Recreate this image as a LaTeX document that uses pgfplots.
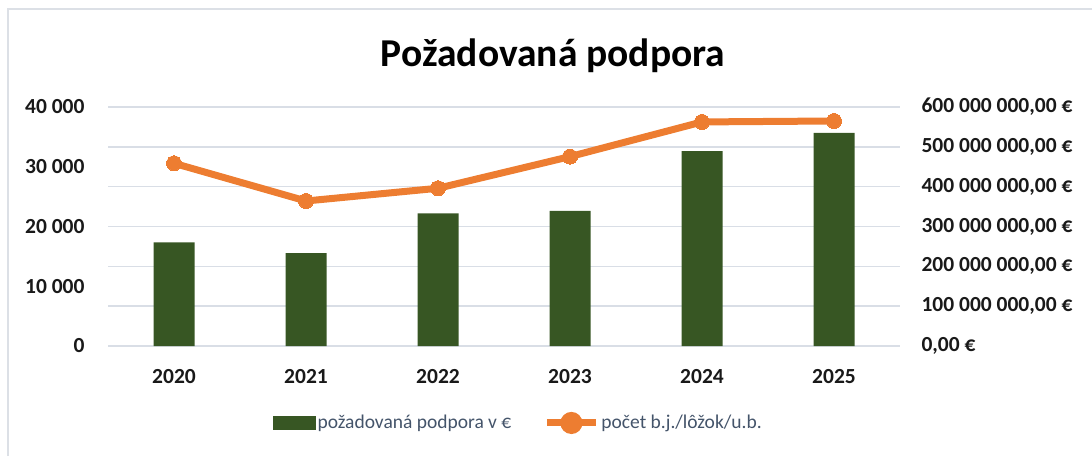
\documentclass[border=0pt]{standalone}
\usepackage{fontspec}
\setmainfont{Carlito}
\usepackage{pgfplots}
\pgfplotsset{compat=1.18}
\definecolor{bargreen}{HTML}{375623}
\definecolor{lineorange}{HTML}{ED7D31}
\definecolor{gridc}{HTML}{D9DEE6}
\definecolor{legtext}{HTML}{44546A}
\definecolor{framec}{HTML}{DCE0E6}
\begin{document}
\begin{tikzpicture}[x=1pt,y=1pt]
\path[use as bounding box] (0,0) rectangle (1092,456);
\draw[framec, line width=2pt] (8,0) -- (8,447) -- (1092,447);
\node[font=\fontsize{39.5}{44}\selectfont\bfseries, anchor=base] at (553,389) {Požadovaná podpora};
% bars: right axis (EUR)
\begin{axis}[
  at={(108pt,110pt)}, anchor=south west,
  scale only axis, width=792pt, height=239pt,
  xmin=-0.5, xmax=5.5, ymin=0, ymax=600000000,
  axis line style={draw=none},
  major tick length=0pt,
  axis y line*=right,
  axis x line*=bottom,
  scaled y ticks=false,
  xtick={0,1,2,3,4,5},
  xticklabels={2020,2021,2022,2023,2024,2025},
  ytick={0,100000000,200000000,300000000,400000000,500000000,600000000},
  yticklabels={{0,00~€},{100~000~000,00~€},{200~000~000,00~€},{300~000~000,00~€},{400~000~000,00~€},{500~000~000,00~€},{600~000~000,00~€}},
  yticklabel style={anchor=west, xshift=18pt, font=\fontsize{21.5}{24}\selectfont\bfseries, text=black!90},
  xticklabel style={font=\fontsize{21.5}{24}\selectfont\bfseries, text=black!90, yshift=-20pt},
  ymajorgrids, grid style={gridc, line width=1.6pt},
  clip=false,
]
\addplot[ybar, bar width=41pt, fill=bargreen, draw=none, bar shift=0pt] coordinates {
(0,260300000) (1,233400000) (2,333000000) (3,339000000) (4,489000000) (5,534800000)
};
\end{axis}
% line: left axis (count)
\begin{axis}[
  at={(108pt,110pt)}, anchor=south west,
  scale only axis, width=792pt, height=239pt,
  xmin=-0.5, xmax=5.5, ymin=0, ymax=40000,
  axis line style={draw=none},
  major tick length=0pt,
  axis y line*=left,
  axis x line*=bottom,
  scaled y ticks=false,
  xtick=\empty,
  ytick={0,10000,20000,30000,40000},
  yticklabels={0,{10~000},{20~000},{30~000},{40~000}},
  yticklabel style={anchor=east, xshift=-20pt, font=\fontsize{21.5}{24}\selectfont\bfseries, text=black!90},
  clip=false,
  legend columns=2,
  legend style={draw=none, fill=none, at={(0.2083,-0.322)}, anchor=west, inner sep=0pt,
    font=\fontsize{19.5}{22}\selectfont, text=legtext,
    nodes={inner sep=2pt, text=legtext},
    /tikz/every even column/.append style={column sep=30pt}},
  legend cell align=left,
]
\addlegendimage{legend image code/.code={\fill[bargreen] (0pt,-6.5pt) rectangle (42pt,6.5pt);}}
\addlegendentry{požadovaná podpora v €}
\addplot[lineorange, line width=7pt, mark=*, mark size=7.5pt, mark options={fill=lineorange, draw=lineorange, line width=0pt},
  legend image code/.code={\draw[lineorange, line width=7pt] (0pt,0pt) -- (49pt,0pt); \fill[lineorange] (24.5pt,0pt) circle (7.5pt);}]
 coordinates {
(0,30580) (1,24270) (2,26400) (3,31700) (4,37500) (5,37660)
};
\addlegendentry{počet b.j./lôžok/u.b.}
\end{axis}
\end{tikzpicture}
\end{document}
